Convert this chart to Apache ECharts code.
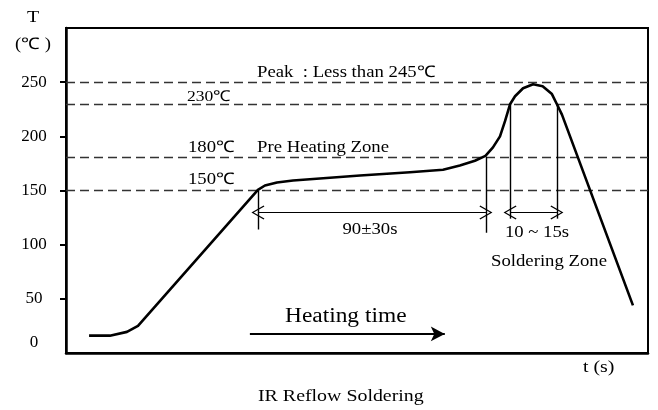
<!DOCTYPE html>
<html>
<head>
<meta charset="utf-8">
<script src="https://cdn.jsdelivr.net/npm/echarts@6/dist/echarts.min.js"></script>
<style>html,body{margin:0;padding:0;background:#fff;}#c{width:658px;height:410px;}</style>
</head>
<body>
<div id="c"></div>
<script>
// Reflow profile (time in s, temperature in °C)
const timeS = [9.2, 17.5, 24.3, 28.7, 76.5, 79.3, 84.1, 90.5, 105.2, 117.2, 137.1, 150.3, 157, 163, 167.2, 170.2, 173, 175, 177, 179, 182.2, 186.2, 190, 193.7, 195.7, 197.7, 226];
const tempC = [16, 16, 19.5, 25, 150.5, 154.6, 157.4, 159.3, 161.8, 163.9, 166.8, 169.2, 173, 177.5, 182, 189.8, 200, 214, 229.6, 237, 244.4, 248, 246.3, 239, 229.6, 220, 44];
const yTickValues = [50, 100, 150, 200, 250];
const yLabelValues = [0, 50, 100, 150, 200, 250];
const guideTemps = [250, 230, 181, 150];
// vertical marker lines: time, top temp, bottom temp
const markerTimes = [76.5, 167.4, 177, 195.7];
const markerTop = [150, 181, 230, 230];
const markerBottom = [114, 111, 124, 124];
// span arrows
const spanFrom = [76.5, 177];
const spanTo = [167.4, 195.7];
const spanTemp = 129.6;
// heating time arrow
const heatFrom = 73.3, heatTo = 151, heatTemp = 17.6;

const serif = '"Liberation Serif", "Times New Roman", serif';
const chevron = 'path://M5,0 L10,9.4 L9.3,10 L5,1.8 L0.7,10 L0,9.4 Z';

const chart = echarts.init(document.getElementById('c'), null, {renderer: 'canvas'});

const profile = timeS.map((t, i) => [t, tempC[i]]);

function txt(text, x, y, size, align) {
  return {
    type: 'text', x: x, y: y, scaleX: 1.17,
    style: {text: text, font: size + 'px ' + serif, fill: '#000',
      textAlign: align || 'left', textVerticalAlign: 'middle'}
  };
}

chart.setOption({
  animation: false,
  backgroundColor: '#fff',
  grid: {left: 66, top: 28, right: 10, bottom: 57, show: true, borderColor: '#000', borderWidth: 2},
  xAxis: {
    type: 'value', min: 0, max: 232,
    axisLine: {show: true, lineStyle: {color: '#000', width: 2.5}},
    axisTick: {show: false}, axisLabel: {show: false}, splitLine: {show: false}
  },
  yAxis: {
    type: 'value', min: 0, max: 300,
    axisLine: {show: true, lineStyle: {color: '#000', width: 2.5}},
    axisTick: {show: true, length: 6, lineStyle: {color: '#000', width: 2}, customValues: yTickValues},
    axisLabel: {
      customValues: yLabelValues, margin: 32, align: 'center',
      color: '#000', fontSize: 17, fontFamily: serif,
      formatter: v => v === 0 ? '{z|0}' : String(v),
      rich: {z: {padding: [0, 0, 20, 0], fontSize: 17, fontFamily: serif, color: '#000'}}
    },
    splitLine: {show: false}
  },
  series: [
    {
      type: 'line', data: profile, showSymbol: false, symbol: 'none',
      lineStyle: {color: '#000', width: 2.6, join: 'round'}, z: 5
    },
    {
      type: 'line', data: [], silent: true,
      markLine: {
        silent: true, symbol: 'none', label: {show: false},
        lineStyle: {color: '#333', width: 1.3, type: [9, 5]},
        data: guideTemps.map(v => ({yAxis: v}))
      }
    },
    {
      type: 'line', data: [], silent: true,
      markLine: {
        silent: true, symbol: 'none', label: {show: false},
        lineStyle: {color: '#000', width: 1.4, type: 'solid'},
        data: markerTimes.map((t, i) => [{coord: [t, markerTop[i]]}, {coord: [t, markerBottom[i]]}])
      }
    },
    {
      type: 'line', data: [], silent: true,
      markLine: {
        silent: true, symbol: [chevron, chevron], symbolSize: [14, 13], label: {show: false},
        lineStyle: {color: '#000', width: 1.1, type: 'solid'},
        data: spanFrom.map((t, i) => [{coord: [t, spanTemp]}, {coord: [spanTo[i], spanTemp]}])
      }
    },
    {
      type: 'line', data: [], silent: true,
      markLine: {
        silent: true, symbol: ['none', 'arrow'], symbolSize: [11, 14], label: {show: false},
        lineStyle: {color: '#000', width: 2, type: 'solid'},
        data: [[{coord: [heatFrom, heatTemp]}, {coord: [heatTo, heatTemp]}]]
      }
    }
  ],
  graphic: [
    txt('T', 33, 18, 17, 'center'),
    txt('(℃ )', 33, 45, 16, 'center'),
    txt('Peak  : Less than 245℃', 257, 73, 16),
    txt('230℃', 187, 97, 15),
    txt('180℃', 188, 148, 16),
    txt('Pre Heating Zone', 257, 148, 16),
    txt('150℃', 188, 180, 16),
    txt('90±30s', 370, 230, 16, 'center'),
    txt('10 ~ 15s', 537, 233, 16, 'center'),
    txt('Soldering Zone', 549, 262, 16, 'center'),
    txt('Heating time', 285, 317, 20),
    txt('t (s)', 583, 368, 17),
    txt('IR Reflow Soldering', 258, 397, 17)
  ]
});
</script>
</body>
</html>
